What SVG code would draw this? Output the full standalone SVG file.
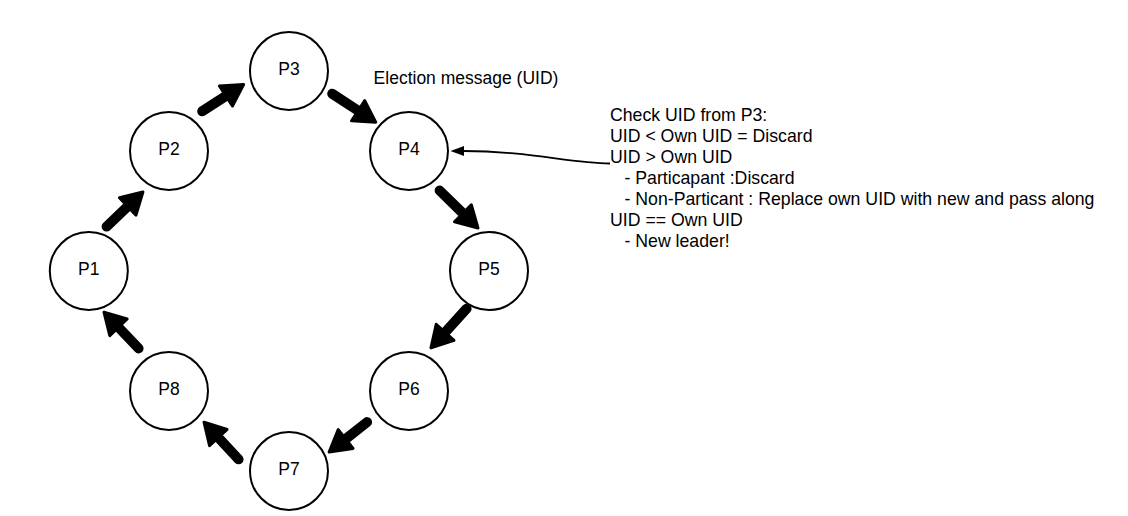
<svg xmlns="http://www.w3.org/2000/svg" width="1128" height="516" viewBox="0 0 1128 516">
  <style>
    .node circle { fill: #ffffff; stroke: #000000; stroke-width: 2; }
    text { font-family: "Liberation Sans", Arial, sans-serif; font-size: 17.5px; fill: #000000; }
    .label { text-anchor: middle; }
    .note { font-size: 17.7px; }
    .big { stroke: #000000; stroke-width: 10; stroke-linecap: round; fill: none; }
    .thin { stroke: #000000; stroke-width: 1.8; fill: none; }
  </style>
  <defs>
    <marker id="bigHead" markerUnits="userSpaceOnUse" viewBox="-2 -2 26 30" markerWidth="26" markerHeight="30" refX="4" refY="13" orient="auto">
      <path d="M0,1 L21,13 L0,25 Z" fill="#000000" stroke="#000000" stroke-width="3" stroke-linejoin="round"/>
    </marker>
    <marker id="thinHead" markerUnits="userSpaceOnUse" viewBox="0 0 14 10" markerWidth="14" markerHeight="10" refX="0.5" refY="5" orient="auto">
      <path d="M0,0 L13.5,5 L0,10 Z" fill="#000000"/>
    </marker>
  </defs>

  <rect width="1128" height="516" fill="#ffffff"/>

  <g id="connectors">
    <line class="big" x1="106.6" y1="226.6" x2="130.6" y2="203.7" marker-end="url(#bigHead)"/>
    <line class="big" x1="202.2" y1="111.3" x2="229.3" y2="93.8" marker-end="url(#bigHead)"/>
    <line class="big" x1="332.2" y1="93.7" x2="361.5" y2="112.9" marker-end="url(#bigHead)"/>
    <line class="big" x1="439.6" y1="190.5" x2="465.8" y2="216.1" marker-end="url(#bigHead)"/>
    <line class="big" x1="466.6" y1="308.7" x2="442.4" y2="335.3" marker-end="url(#bigHead)"/>
    <line class="big" x1="367.1" y1="422.1" x2="342.5" y2="441.5" marker-end="url(#bigHead)"/>
    <line class="big" x1="238.6" y1="459.3" x2="215.6" y2="434.6" marker-end="url(#bigHead)"/>
    <line class="big" x1="138.6" y1="348.4" x2="115.7" y2="324.4" marker-end="url(#bigHead)"/>
    <path class="thin" d="M610,163.5 C570,163.5 530,151 463.5,151" marker-end="url(#thinHead)"/>
  </g>

  <g id="P1" class="node"><circle cx="88.8" cy="271" r="39"/><text class="label" x="88.8" y="274.6">P1</text></g>
  <g id="P2" class="node"><circle cx="169" cy="151" r="39"/><text class="label" x="169" y="154.6">P2</text></g>
  <g id="P3" class="node"><circle cx="289" cy="71" r="39"/><text class="label" x="289" y="74.6">P3</text></g>
  <g id="P4" class="node"><circle cx="409" cy="151" r="39"/><text class="label" x="409" y="154.6">P4</text></g>
  <g id="P5" class="node"><circle cx="489" cy="271" r="39"/><text class="label" x="489" y="274.6">P5</text></g>
  <g id="P6" class="node"><circle cx="409" cy="391" r="39"/><text class="label" x="409" y="394.6">P6</text></g>
  <g id="P7" class="node"><circle cx="289" cy="471" r="39"/><text class="label" x="289" y="474.6">P7</text></g>
  <g id="P8" class="node"><circle cx="169" cy="391" r="39"/><text class="label" x="169" y="394.6">P8</text></g>

  <g id="election-label">
    <text x="373.6" y="84">Election message (UID)</text>
  </g>

  <g id="rules-note">
    <text class="note">
      <tspan x="610" y="120.7">Check UID from P3:</tspan>
      <tspan x="610" y="141.7">UID &lt; Own UID = Discard</tspan>
      <tspan x="610" y="162.7">UID &gt; Own UID</tspan>
      <tspan x="624.5" y="183.7">- Particapant :Discard</tspan>
      <tspan x="624.5" y="204.7">- Non-Particant : Replace own UID with new and pass along</tspan>
      <tspan x="610" y="225.7">UID == Own UID</tspan>
      <tspan x="624.5" y="246.7">- New leader!</tspan>
    </text>
  </g>
</svg>
